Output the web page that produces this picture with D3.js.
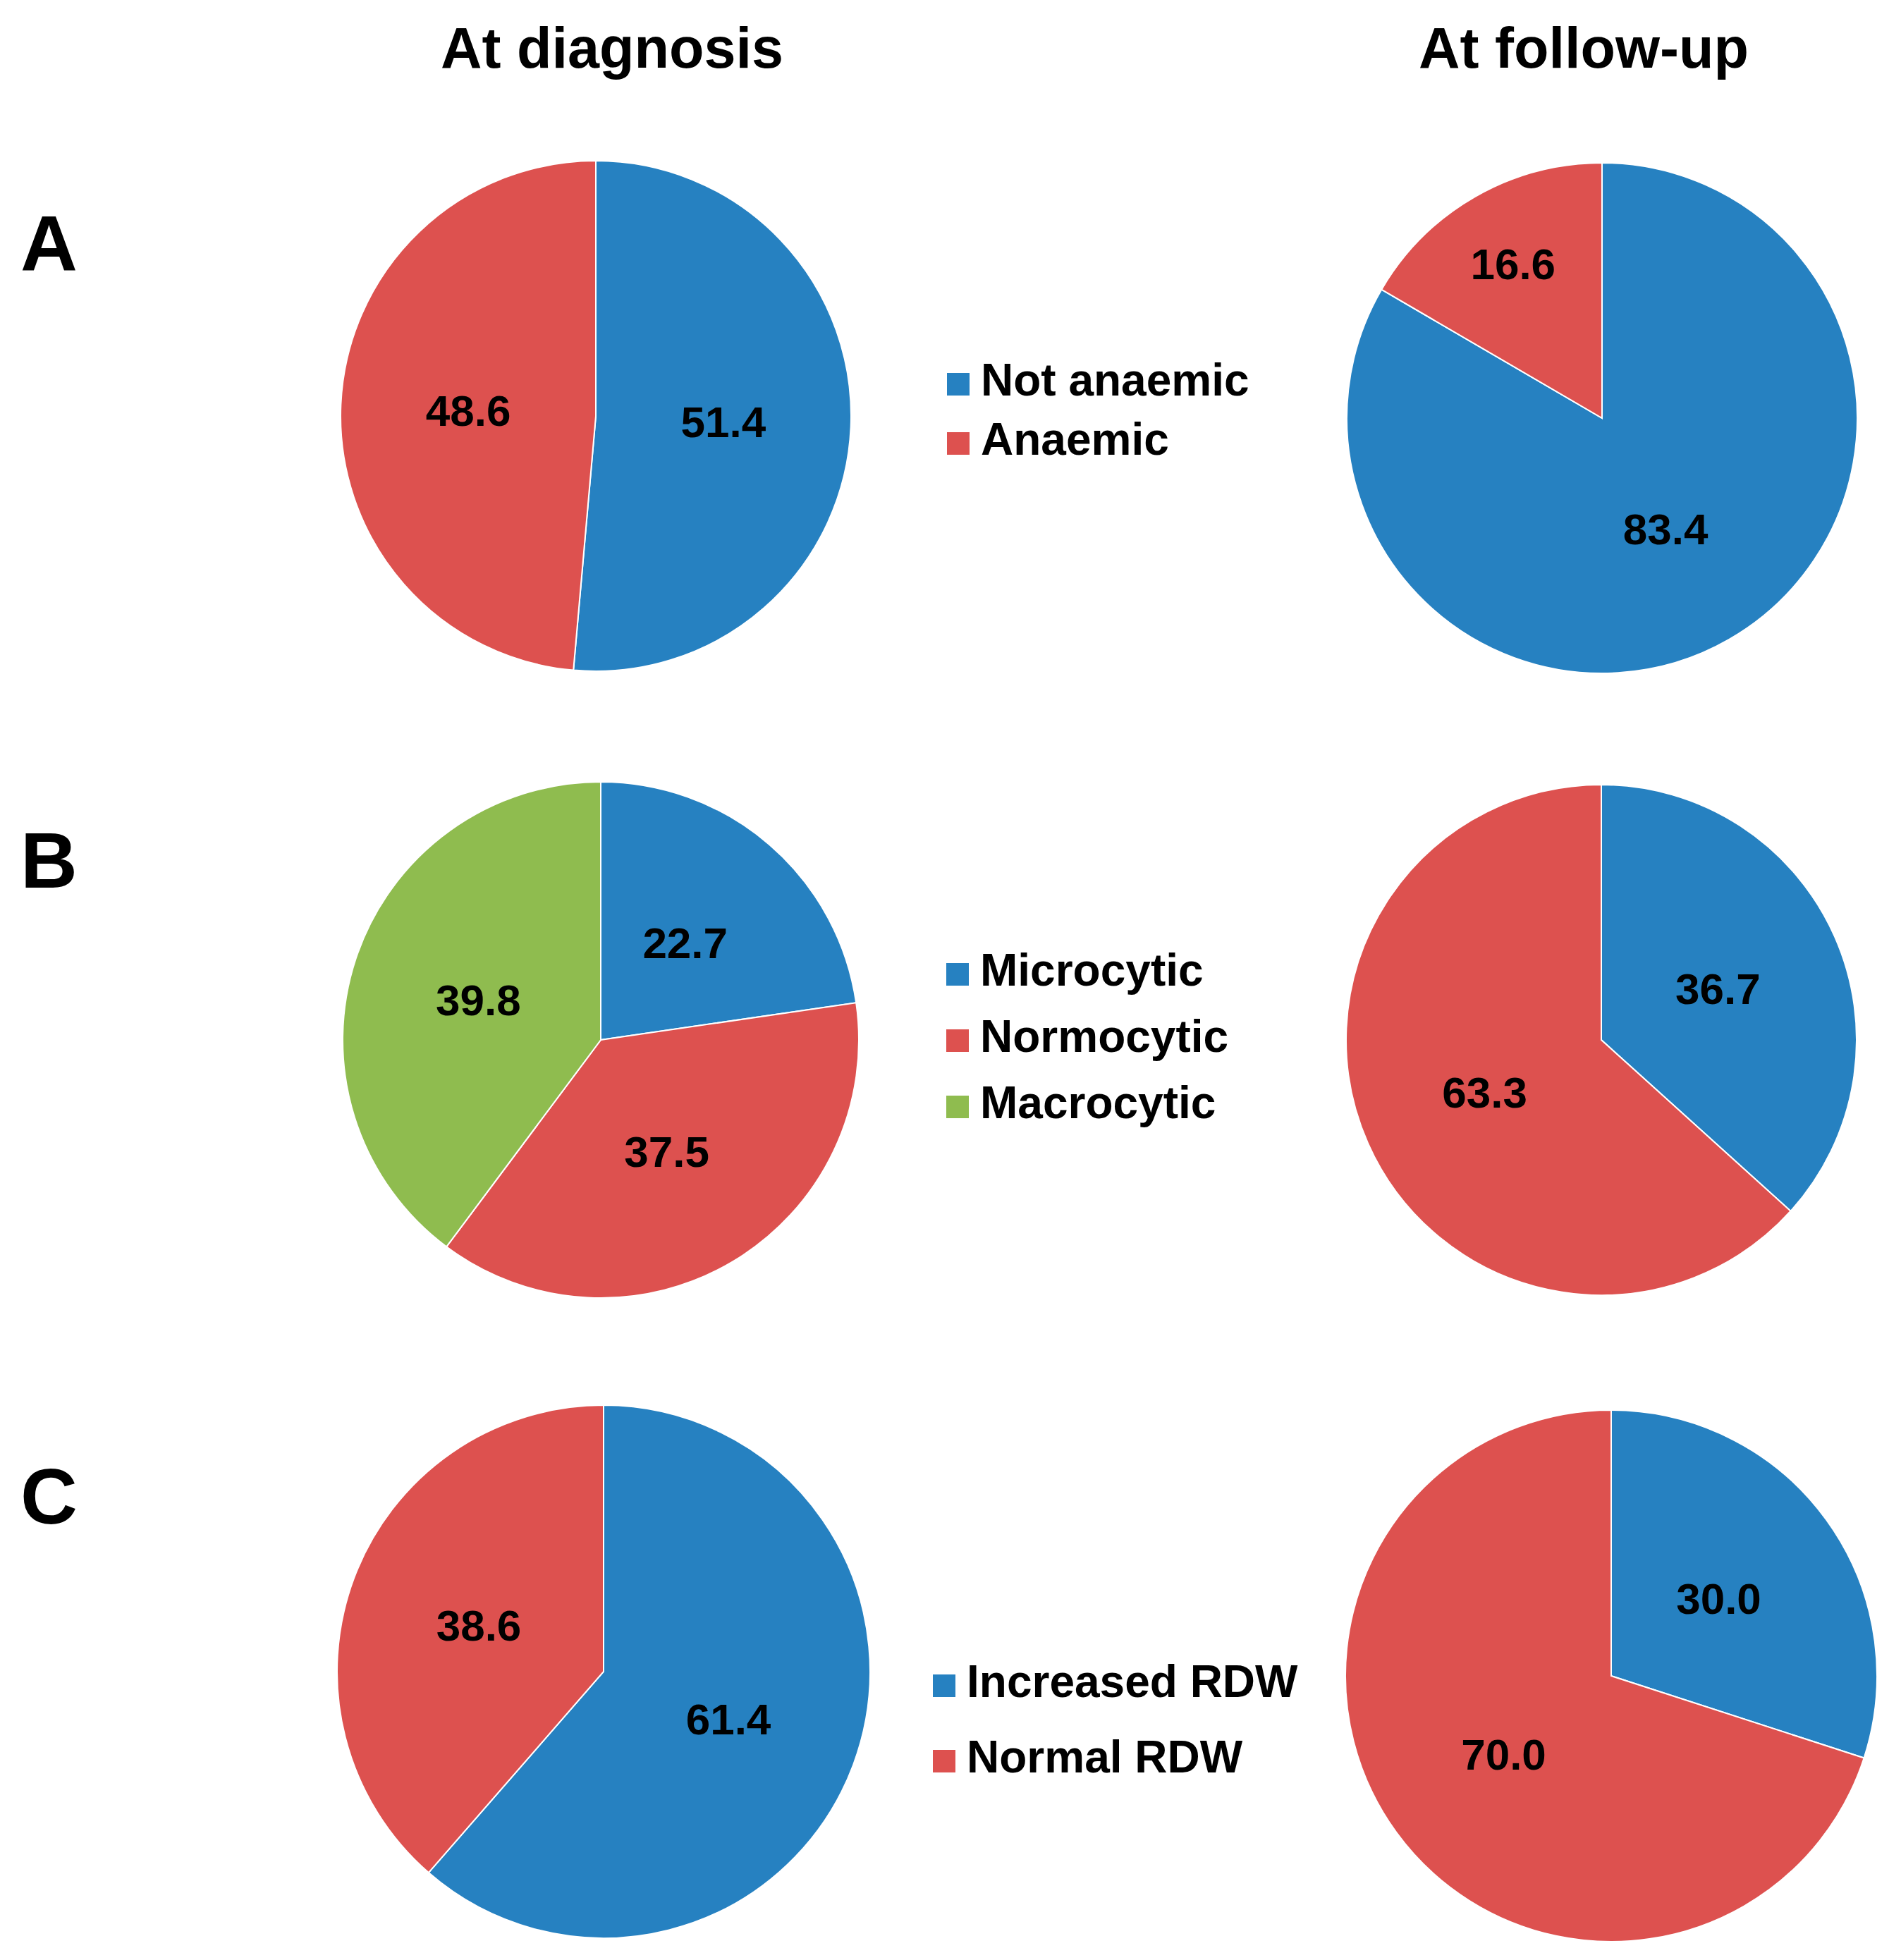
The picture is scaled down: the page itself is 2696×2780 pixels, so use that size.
<!DOCTYPE html>
<html>
<head>
<meta charset="utf-8">
<script src="https://cdn.jsdelivr.net/npm/d3@7/dist/d3.min.js"></script>
<style>
  html, body { margin: 0; padding: 0; background: #fff; }
  svg { display: block; }
  text { font-family: "Liberation Sans", Arial, sans-serif; font-weight: bold; fill: #000; }
</style>
</head>
<body>
<svg id="chart" width="2696" height="2780"></svg>
<script>
// ---------- data ----------
const columnTitles = ["At diagnosis", "At follow-up"];
const panelLetters = ["A", "B", "C"];

const categoriesA = ["Not anaemic", "Anaemic"];
const diagnosisA  = [51.4, 48.6];
const followupA   = [83.4, 16.6];

const categoriesB = ["Microcytic", "Normocytic", "Macrocytic"];
const diagnosisB  = [22.7, 37.5, 39.8];
const followupB   = [36.7, 63.3, 0];

const categoriesC = ["Increased RDW", "Normal RDW"];
const diagnosisC  = [61.4, 38.6];
const followupC   = [30.0, 70.0];

const colorList = ["#2681c1", "#dd514f", "#8fbc4f"];

// ---------- layout ----------
const W = 2696, H = 2780;
const svg = d3.select("#chart");

const rows = [
  { cats: categoriesA, vals: [diagnosisA, followupA], cy: [590, 593], cx: [845, 2272], r: [362, 362],
    legendX: 1343, legendBase: 561, legendStep: 84, letterY: 384 },
  { cats: categoriesB, vals: [diagnosisB, followupB], cy: [1475, 1475], cx: [852, 2271], r: [366, 362],
    legendX: 1342, legendBase: 1398, legendStep: 94, letterY: 1259 },
  { cats: categoriesC, vals: [diagnosisC, followupC], cy: [2371, 2377], cx: [856, 2285], r: [378, 377],
    legendX: 1323, legendBase: 2407, legendStep: 107, letterY: 2161 }
];

// column titles
const titleX = d3.scaleOrdinal().domain(columnTitles).range([868, 2246]);
svg.selectAll("text.coltitle").data(columnTitles).join("text")
  .attr("class", "coltitle")
  .attr("x", d => titleX(d)).attr("y", 96)
  .attr("text-anchor", "middle")
  .style("font-size", "81px")
  .text(d => d);

const pie = d3.pie().sort(null).value(d => d.value);
const fmt = d3.format(".1f");

rows.forEach((row, ri) => {
  // panel letter
  svg.append("text")
    .attr("x", 29).attr("y", row.letterY)
    .style("font-size", "112px")
    .text(panelLetters[ri]);

  const color = d3.scaleOrdinal().domain(row.cats).range(colorList);

  row.vals.forEach((vals, ci) => {
    const data = row.cats.map((c, i) => ({ cat: c, value: vals[i] })).filter(d => d.value > 0);
    const r = row.r[ci];
    const g = svg.append("g").attr("transform", `translate(${row.cx[ci]},${row.cy[ci]})`);
    const arc = d3.arc().innerRadius(0).outerRadius(r);
    const arcs = pie(data);
    g.selectAll("path").data(arcs).join("path")
      .attr("d", arc)
      .attr("fill", d => color(d.data.cat))
      .attr("stroke", "#ffffff")
      .attr("stroke-width", 2);
    g.selectAll("text").data(arcs).join("text")
      .attr("transform", d => {
        const frac = d.data.value < 20 ? 0.7 : 0.5;
        const la = d3.arc().innerRadius(r * frac).outerRadius(r * frac);
        const [x, y] = la.centroid(d);
        return `translate(${x},${y})`;
      })
      .attr("text-anchor", "middle")
      .attr("dy", "0.36em")
      .style("font-size", "62px")
      .text(d => fmt(d.data.value));
  });

  // legend
  const lg = svg.append("g");
  const items = lg.selectAll("g").data(row.cats).join("g")
    .attr("transform", (d, i) => `translate(${row.legendX},${row.legendBase + i * row.legendStep})`);
  items.append("rect")
    .attr("x", 0).attr("y", -32).attr("width", 32).attr("height", 32)
    .attr("fill", d => color(d));
  items.append("text")
    .attr("x", 48).attr("y", 0)
    .style("font-size", "64px")
    .text(d => d);
});
</script>
</body>
</html>
